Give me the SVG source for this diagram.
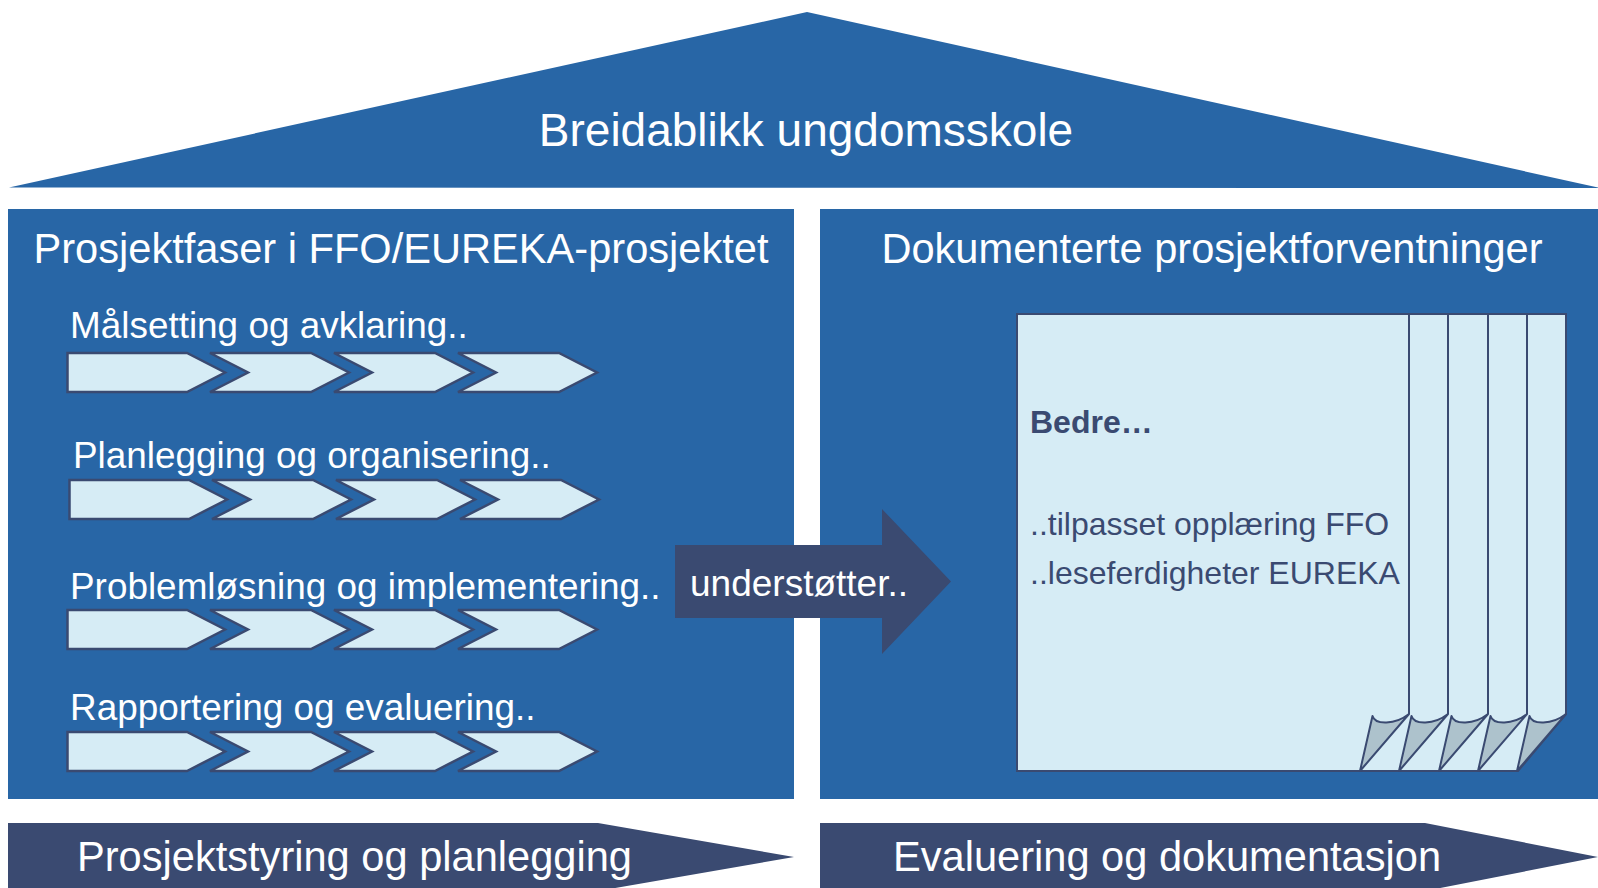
<svg xmlns="http://www.w3.org/2000/svg" width="1598" height="888" viewBox="0 0 1598 888">
<style>
.blue{fill:#2866A6}
.navy{fill:#3A4A71}
.wt{fill:#FFFFFF;font-family:"Liberation Sans",Arial,sans-serif}
.lbl{font-size:36.9px}
.hdr{font-size:41.6px}
.chev{fill:#D6ECF5;stroke:#3A4A71;stroke-width:2.5;stroke-linejoin:miter}
.doc{fill:#D6ECF5;stroke:#3A4A71;stroke-width:2}
.fold{fill:#ADC2CC;stroke:#3A4A71;stroke-width:2;stroke-linejoin:round}
.dt{fill:#3A4A71;font-family:"Liberation Sans",Arial,sans-serif;font-size:32px}
</style>
<defs>
<path id="home" class="chev" d="M67.5,0 H187 L225,19.5 L187,39 H67.5 Z"/>
<path id="chv" class="chev" d="M210,0 H311 L349,19.5 L311,39 H210 L248,19.5 Z"/>
<g id="row">
<use href="#home"/>
<use href="#chv"/>
<use href="#chv" transform="translate(124,0)"/>
<use href="#chv" transform="translate(248,0)"/>
</g>
</defs>
<rect width="1598" height="888" fill="#FFFFFF"/>

<g id="roof">
<polygon class="blue" points="9,187.5 807,12 1600,188"/>
<text class="wt" x="806" y="146" font-size="46" text-anchor="middle">Breidablikk ungdomsskole</text>
</g>

<g id="left-panel">
<rect class="blue" x="8" y="209" width="786" height="590"/>
<text class="wt hdr" x="401" y="263" text-anchor="middle">Prosjektfaser i FFO/EUREKA-prosjektet</text>
</g>

<g id="phase1">
<text class="wt lbl" x="70" y="338">Målsetting og avklaring..</text>
<use href="#row" transform="translate(0,353)"/>
</g>
<g id="phase2">
<text class="wt lbl" x="73" y="468">Planlegging og organisering..</text>
<use href="#row" transform="translate(2,480)"/>
</g>
<g id="phase3">
<text class="wt lbl" x="70" y="599">Problemløsning og implementering..</text>
<use href="#row" transform="translate(0,610)"/>
</g>
<g id="phase4">
<text class="wt lbl" x="70" y="720">Rapportering og evaluering..</text>
<use href="#row" transform="translate(0,732)"/>
</g>

<g id="right-panel">
<rect class="blue" x="820" y="209" width="780" height="590"/>
<text class="wt hdr" x="1212" y="263" text-anchor="middle">Dokumenterte prosjektforventninger</text>
</g>

<g id="document">
<path class="doc" d="M1017,314 H1566 V714 L1518,771 H1017 Z"/>
<path fill="none" stroke="#3A4A71" stroke-width="2" d="M1409,314 V714 M1448,314 V714 M1488,314 V714 M1527,314 V714"/>
<path class="fold" d="M1372.5,716 C1375,725 1395,725 1409,714 L1360,771 Z"/>
<path class="fold" d="M1411.5,716 C1414,725 1434,725 1448,714 L1399,771 Z"/>
<path class="fold" d="M1451.5,716 C1454,725 1474,725 1488,714 L1439,771 Z"/>
<path class="fold" d="M1490.5,716 C1493,725 1513,725 1527,714 L1478,771 Z"/>
<path class="fold" d="M1529.5,716 C1532,725 1552,725 1566,714 L1517,771 Z"/>
<text class="dt" x="1030" y="433" font-weight="bold">Bedre…</text>
<text class="dt" x="1030" y="535">..tilpasset opplæring FFO</text>
<text class="dt" x="1030" y="584">..leseferdigheter EUREKA</text>
</g>

<g id="connectors">
<polygon class="navy" points="675,545 882,545 882,509 951,581.5 882,654 882,618 675,618"/>
<text class="wt" x="690" y="596" font-size="37">understøtter..</text>
</g>

<g id="bottom-left">
<polygon class="navy" points="8,823 598,823 794,857 598,891 8,891"/>
<text class="wt hdr" x="77" y="871">Prosjektstyring og planlegging</text>
</g>
<g id="bottom-right">
<polygon class="navy" points="820,823 1425,823 1598,857 1425,891 820,891"/>
<text class="wt hdr" x="893" y="871">Evaluering og dokumentasjon</text>
</g>
</svg>
